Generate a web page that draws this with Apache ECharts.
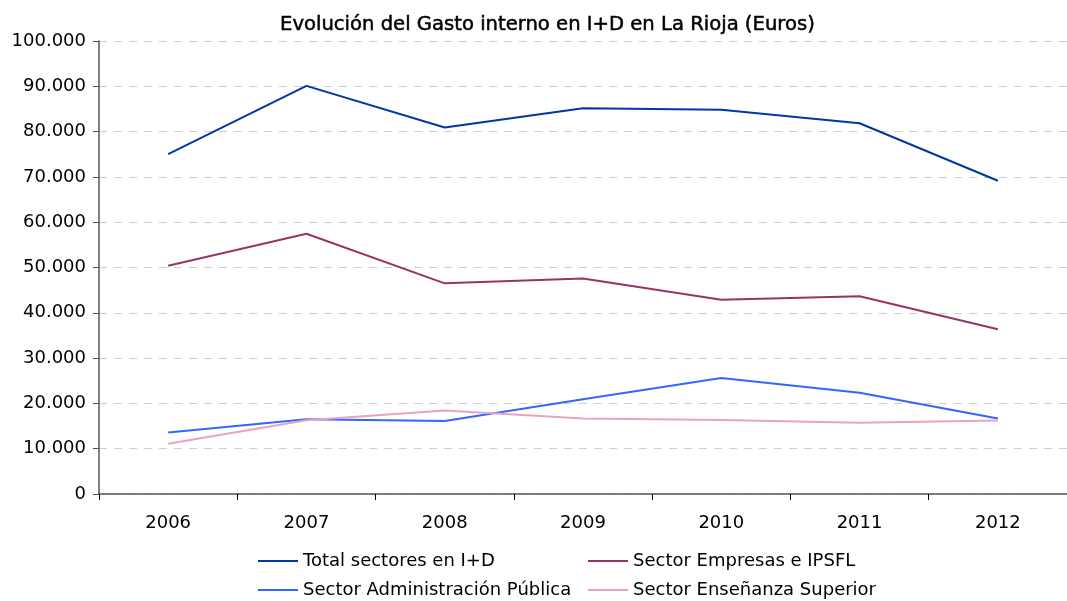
<!DOCTYPE html>
<html>
<head>
<meta charset="utf-8">
<script src="https://cdn.jsdelivr.net/npm/echarts@6/dist/echarts.min.js"></script>
<style>html,body{margin:0;padding:0;background:#fff}#c{width:1067px;height:601px}</style>
</head>
<body>
<div id="c"></div>
<script>
var categories = ['2006','2007','2008','2009','2010','2011','2012'];
var totalSectores = [75050, 90100, 80900, 85150, 84800, 81850, 69150];
var empresas = [50400, 57450, 46500, 47550, 42900, 43650, 36350];
var administracion = [13550, 16500, 16100, 20900, 25600, 22350, 16650];
var ensenanza = [11100, 16300, 18450, 16650, 16350, 15750, 16250];
var seriesNames = ['Total sectores en I+D','Sector Empresas e IPSFL','Sector Administración Pública','Sector Enseñanza Superior'];
var colors = ['#0037a5','#993366','#3366ff','#e6a3c6'];

var font = '"DejaVu Sans", "Liberation Sans", Arial, sans-serif';
function fmt(v){ return String(v).replace(/\B(?=(\d{3})+(?!\d))/g,'.'); }
function mk(name, data, color){
  return {name:name, type:'line', data:data, showSymbol:false, symbol:'none',
    lineStyle:{color:color, width:2}, itemStyle:{color:color}, animation:false};
}
function lg(name, left, top){
  return {show:true, left:left, top:top, padding:0, data:[name], icon:'rect',
    itemWidth:40, itemHeight:2, selectedMode:false,
    textStyle:{fontFamily:font, fontSize:18, color:'#000', lineHeight:20}};
}
var chart = echarts.init(document.getElementById('c'), null, {renderer:'canvas'});
chart.setOption({
  animation:false,
  title:{text:'Evolución del Gasto interno en I+D en La Rioja (Euros)', left:275, top:10,
    textStyle:{fontFamily:font, fontSize:19.6, fontWeight:'normal', color:'#000',
      textBorderColor:'#000', textBorderWidth:0.5}},
  legend:[
    lg(seriesNames[0], 258, 551),
    lg(seriesNames[1], 588, 551),
    lg(seriesNames[2], 258, 580),
    lg(seriesNames[3], 588, 580)
  ],
  grid:{left:99, top:41, width:976, bottom:107, containLabel:false},
  xAxis:{type:'category', data:categories, boundaryGap:true,
    axisLine:{lineStyle:{color:'#555', width:1.5}},
    axisTick:{show:true, length:6, lineStyle:{color:'#000'}},
    axisLabel:{fontFamily:font, fontSize:18, color:'#000', margin:20}},
  yAxis:{type:'value', min:0, max:100000, interval:10000,
    axisLine:{show:true, lineStyle:{color:'#555', width:1.5}},
    axisTick:{show:true, length:6, lineStyle:{color:'#555'}},
    axisLabel:{fontFamily:font, fontSize:18, color:'#000', margin:13, formatter:fmt},
    splitLine:{lineStyle:{color:'#cfcfcf', type:[8,7], width:1.2}}},
  series:[
    mk(seriesNames[0], totalSectores, colors[0]),
    mk(seriesNames[1], empresas, colors[1]),
    mk(seriesNames[2], administracion, colors[2]),
    mk(seriesNames[3], ensenanza, colors[3])
  ]
});
</script>
</body>
</html>
